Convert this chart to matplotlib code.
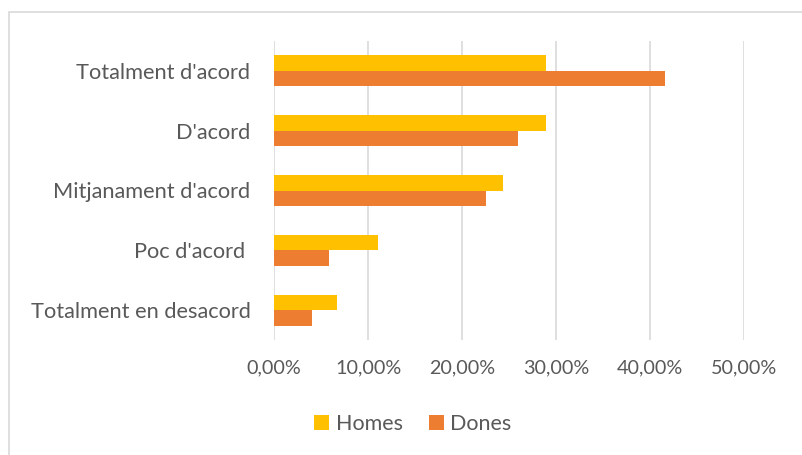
import matplotlib
matplotlib.use("Agg")
import matplotlib.pyplot as plt
from matplotlib.patches import Rectangle
from matplotlib.ticker import FuncFormatter
import numpy as np

categories = ["Totalment d'acord", "D'acord", "Mitjanament d'acord", "Poc d'acord ", "Totalment en desacord"]
homes = [28.9, 28.9, 24.4, 11.1, 6.7]
dones = [41.6, 26.0, 22.5, 5.8, 4.0]
xticks = [0, 10, 20, 30, 40, 50]

plt.rcParams['font.family'] = ['Lato', 'DejaVu Sans']
txt = '#595959'
grid = '#D9D9D9'

fig = plt.figure(figsize=(8.02, 4.55), dpi=100)
ax = fig.add_axes([274/802, 1-340/455, (744-274)/802, (340-41)/455])

y = np.arange(len(categories))
h = 0.26
ax.barh(y - h/2, homes, height=h, color='#FFC000', label='Homes', zorder=3)
ax.barh(y + h/2, dones, height=h, color='#ED7D31', label='Dones', zorder=3)

ax.set_ylim(len(categories) - 0.5, -0.5)
ax.set_xlim(0, 50)
ax.set_xticks(xticks)
ax.xaxis.set_major_formatter(FuncFormatter(lambda v, p: f"{v:.2f}%".replace('.', ',')))
ax.set_yticks(y)
ax.set_yticklabels(categories)
ax.tick_params(axis='both', length=0, colors=txt)
ax.tick_params(axis='y', pad=17, labelsize=15.7)
ax.tick_params(axis='x', pad=14, labelsize=14.2)
ax.grid(axis='x', color=grid, linewidth=1.2, zorder=0)
for s in ax.spines.values():
    s.set_visible(False)

fig.legend(loc='center', bbox_to_anchor=(413/802, 1-424/455), ncol=2, frameon=False,
           fontsize=15.5, labelcolor=txt, handlelength=0.7, handleheight=0.7,
           handletextpad=0.3, columnspacing=1.2)

fig.patches.append(Rectangle((9/802, -0.1), 1.2, 1-12/455+0.1, transform=fig.transFigure,
                             fill=False, edgecolor=grid, linewidth=1.2))

fig.savefig('out.png', dpi=100)
